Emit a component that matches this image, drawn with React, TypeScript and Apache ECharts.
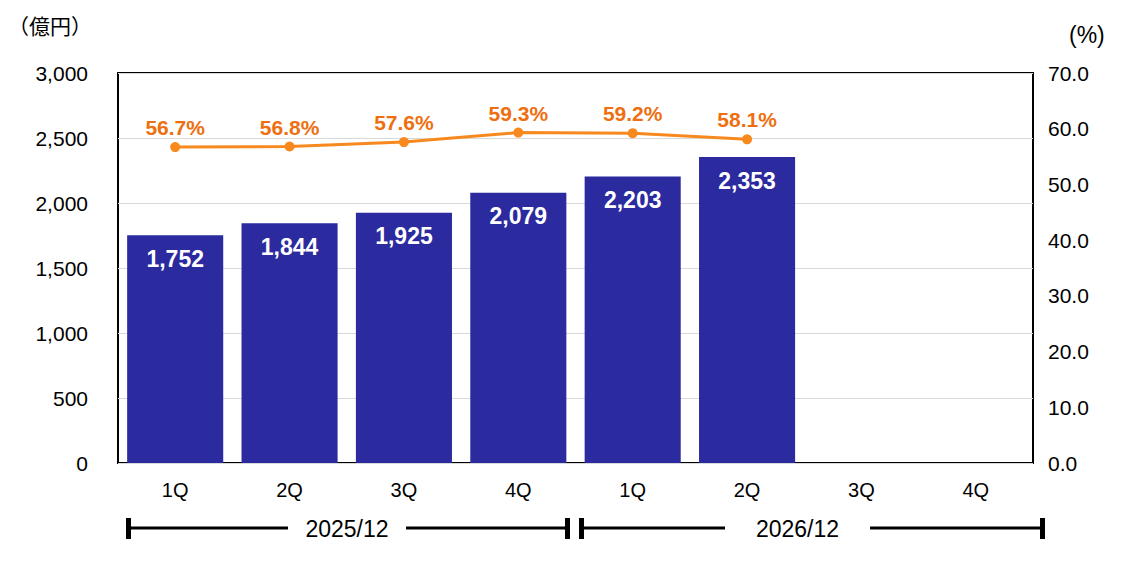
import React, { useEffect, useRef } from "react";
import * as echarts from "echarts";

const categories = ["1Q", "2Q", "3Q", "4Q", "1Q", "2Q", "3Q", "4Q"];
const revenue = [1752, 1844, 1925, 2079, 2203, 2353, null, null];
const ratio = [56.7, 56.8, 57.6, 59.3, 59.2, 58.1, null, null];
const periods = ["2025/12", "2026/12"];
const leftUnit = "（億円）";
const rightUnit = "(%)";

const FONT = "'Liberation Sans', Arial, sans-serif";
const BAR = "#2B2A9E";
const LINE = "#F7891F";
const LABEL = "#EE6F10";

export default function App() {
  const ref = useRef<HTMLDivElement>(null);
  useEffect(() => {
    document.body.style.margin = "0";
    const chart = echarts.init(ref.current!, null, { renderer: "svg" });
    const bracket = (x1: number, x2: number, t1: number, t2: number, text: string) => {
      const y = 528;
      return [
        { type: "rect", shape: { x: x1, y: y - 10, width: 5, height: 21 }, style: { fill: "#000" } },
        { type: "rect", shape: { x: x2 - 5, y: y - 10, width: 5, height: 21 }, style: { fill: "#000" } },
        { type: "line", shape: { x1: x1 + 5, y1: y, x2: t1, y2: y }, style: { stroke: "#000", lineWidth: 3 } },
        { type: "line", shape: { x1: t2, y1: y, x2: x2 - 5, y2: y }, style: { stroke: "#000", lineWidth: 3 } },
        {
          type: "text",
          x: (t1 + t2) / 2,
          y: y + 1,
          style: { text, fill: "#000", font: `23px ${FONT}`, align: "center", verticalAlign: "middle" },
        },
      ];
    };
    chart.setOption({
      animation: false,
      textStyle: { fontFamily: FONT },
      grid: {
        left: 118,
        right: 104,
        top: 73,
        height: 390,
        show: true,
        borderColor: "#000",
        borderWidth: 2,
        backgroundColor: "transparent",
      },
      xAxis: {
        type: "category",
        data: categories,
        axisLine: { show: false },
        axisTick: { show: false },
        axisLabel: { color: "#000", fontSize: 20, margin: 17 },
      },
      yAxis: [
        {
          type: "value",
          min: 0,
          max: 3000,
          interval: 500,
          axisLine: { show: false },
          axisTick: { show: false },
          axisLabel: {
            color: "#000",
            fontSize: 21,
            margin: 30,
            formatter: (v: number) => v.toLocaleString("en-US"),
          },
          splitLine: { lineStyle: { color: "#D9D9D9", width: 1 } },
        },
        {
          type: "value",
          min: 0,
          max: 70,
          interval: 10,
          position: "right",
          axisLine: { show: false },
          axisTick: { show: false },
          axisLabel: { color: "#000", fontSize: 21, margin: 15, formatter: (v: number) => v.toFixed(1) },
          splitLine: { show: false },
        },
      ],
      series: [
        {
          type: "bar",
          data: revenue,
          barWidth: "84%",
          itemStyle: { color: BAR },
          label: {
            show: true,
            position: "insideTop",
            distance: 12,
            color: "#fff",
            fontSize: 23,
            fontWeight: "bold",
            formatter: (p: any) => Number(p.value).toLocaleString("en-US"),
          },
        },
        {
          type: "line",
          yAxisIndex: 1,
          data: ratio,
          symbol: "circle",
          symbolSize: 10,
          lineStyle: { color: LINE, width: 3 },
          itemStyle: { color: LINE },
          label: {
            show: true,
            position: "top",
            distance: 4,
            color: LABEL,
            fontSize: 21,
            fontWeight: "bold",
            formatter: (p: any) => `${Number(p.value).toFixed(1)}%`,
          },
        },
      ],
      graphic: [
        {
          type: "text",
          x: 8,
          y: 25,
          style: { text: leftUnit, fill: "#000", font: `21px 'Noto Sans CJK JP', sans-serif`, verticalAlign: "middle" },
        },
        {
          type: "text",
          x: 1069,
          y: 35,
          style: { text: rightUnit, fill: "#000", font: `23px ${FONT}`, verticalAlign: "middle" },
        },
        ...bracket(126, 570, 288, 406, periods[0]),
        ...bracket(579, 1045, 725, 870, periods[1]),
      ],
    });
    return () => chart.dispose();
  }, []);
  return <div ref={ref} style={{ width: 1137, height: 588 }} />;
}
